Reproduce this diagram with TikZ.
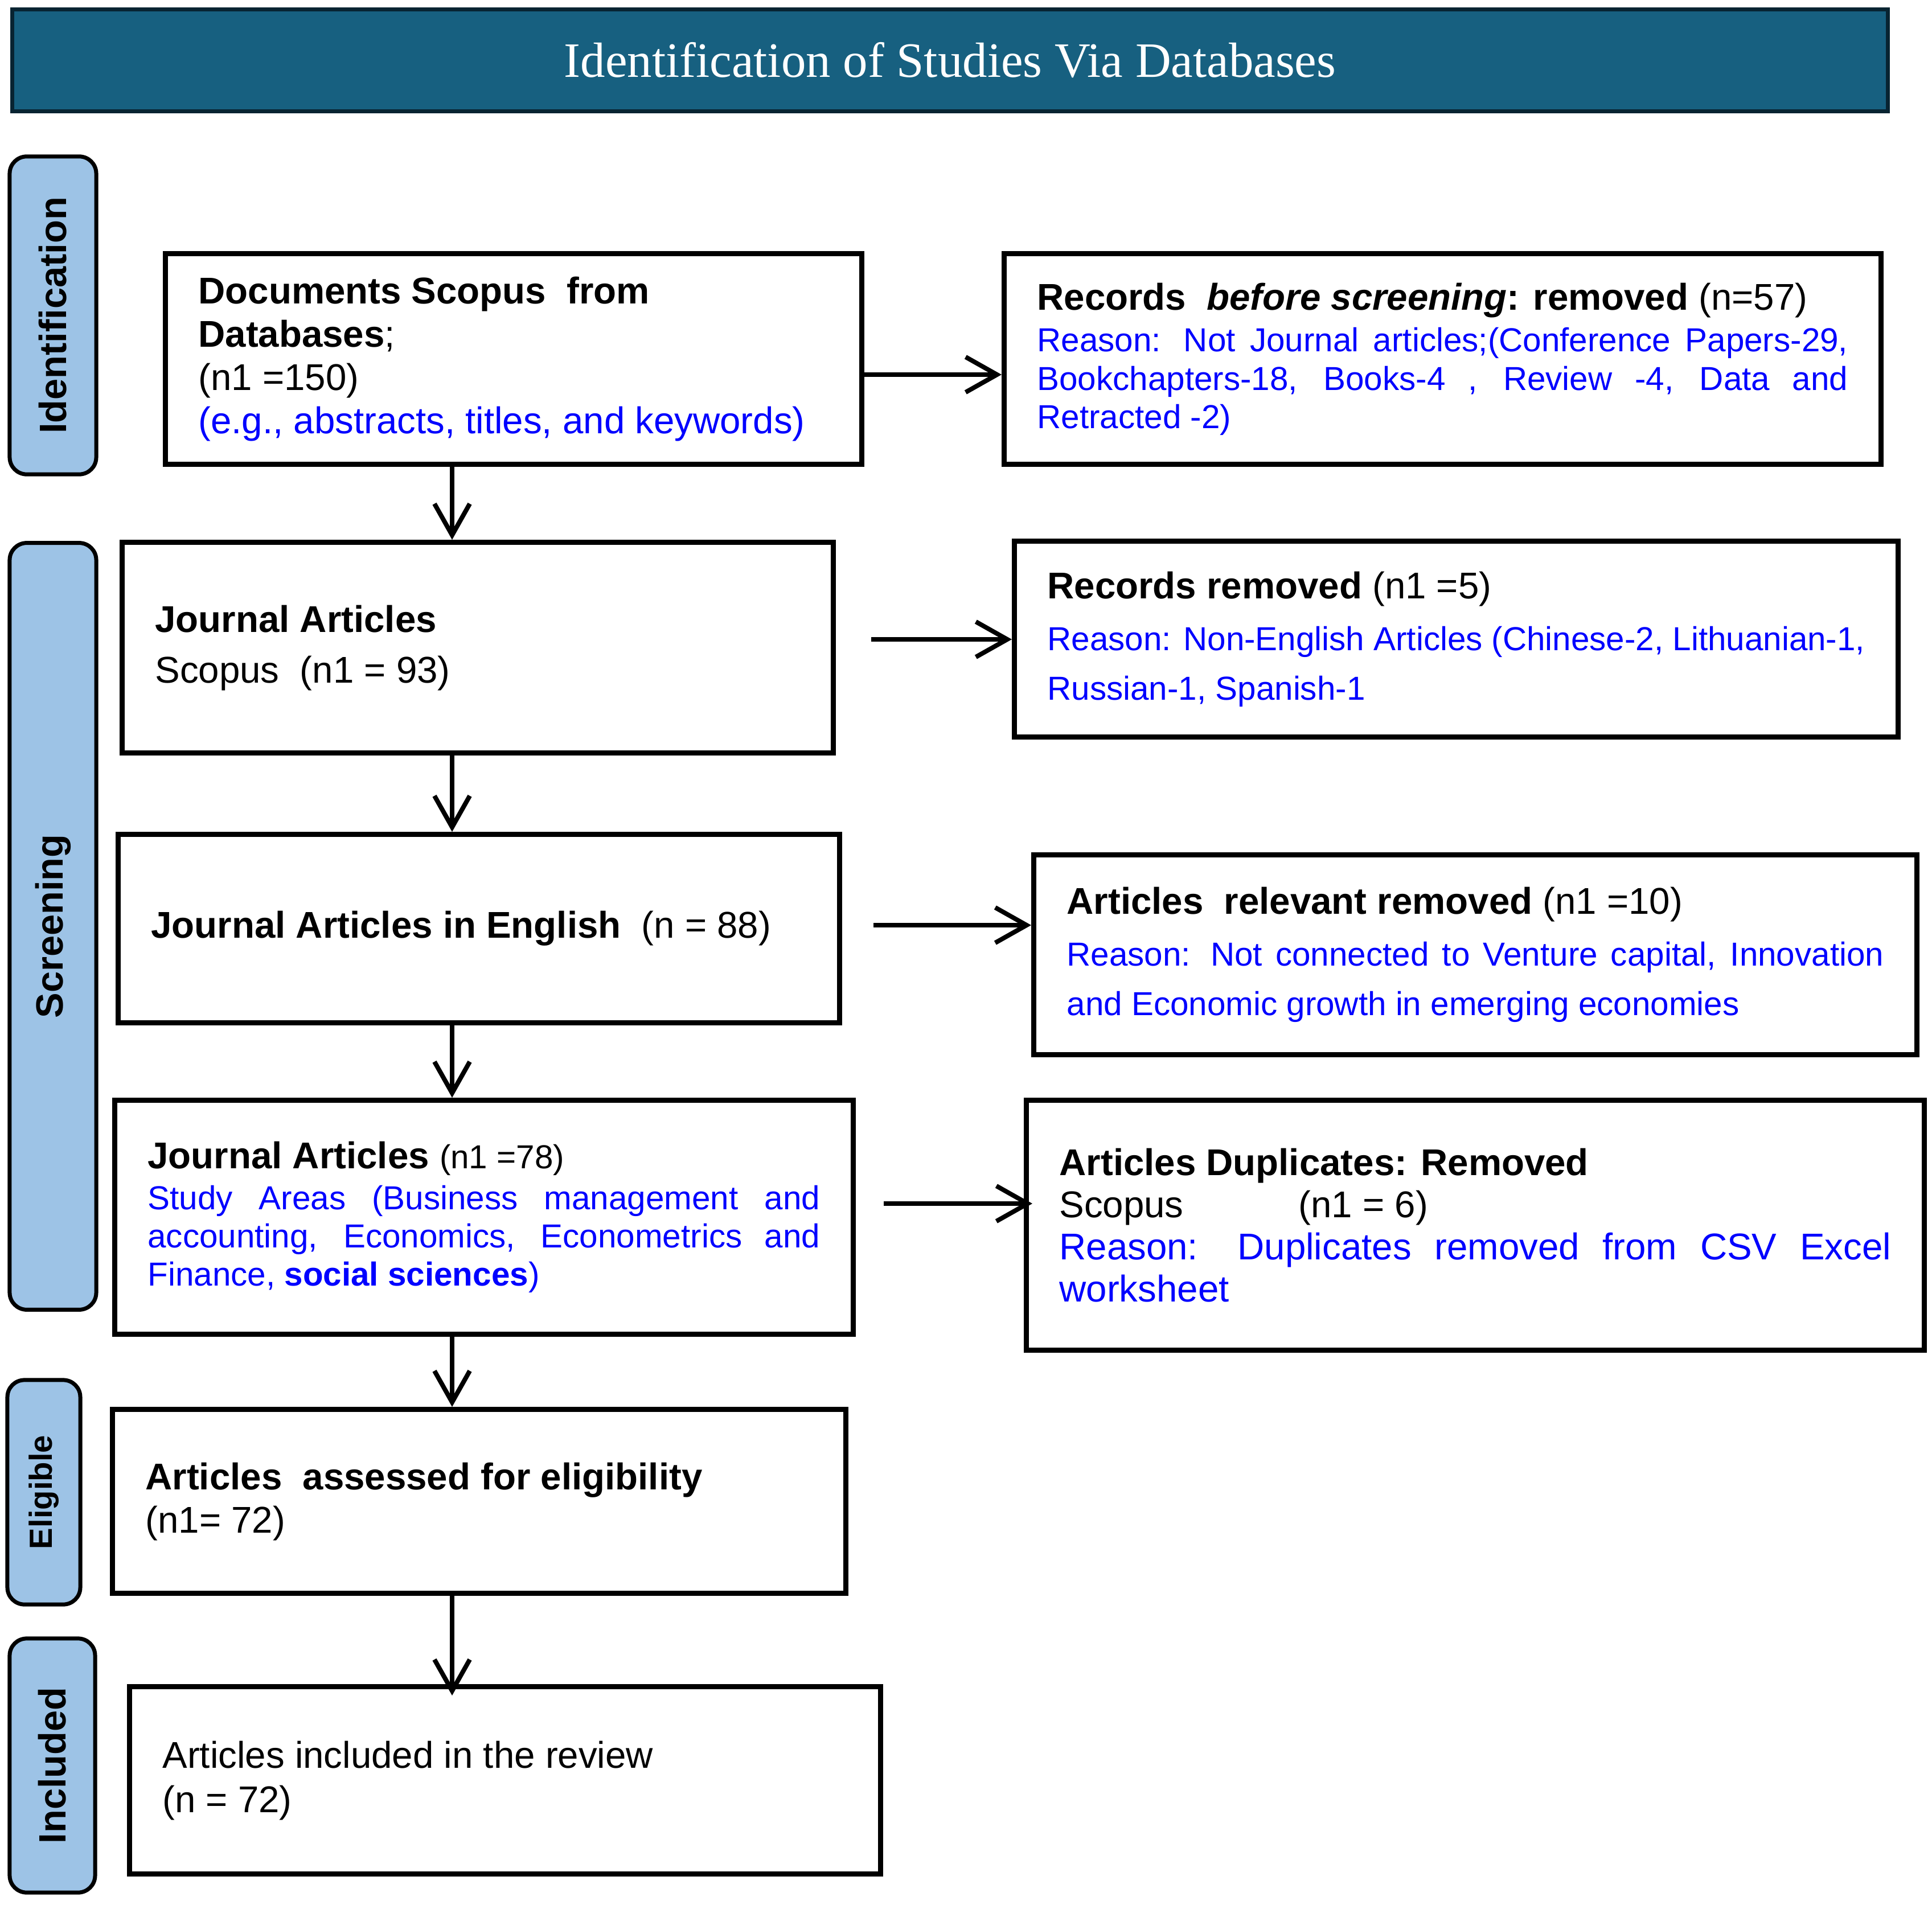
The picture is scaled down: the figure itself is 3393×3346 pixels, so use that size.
\documentclass[tikz,border=0pt]{standalone}
\usepackage{fontspec}
\setmainfont{Liberation Sans}
\newfontfamily\titleserif{Liberation Serif}
\usetikzlibrary{arrows.meta}
\setlength{\parindent}{0pt}
\definecolor{bannerfill}{RGB}{23,96,128}
\definecolor{bannerline}{RGB}{8,36,50}
\definecolor{labfill}{RGB}{157,195,230}
\definecolor{txtblue}{RGB}{0,0,255}
\newcommand{\SzA}[1]{\fontsize{18.6pt}{#1pt}\selectfont}
\newcommand{\SzB}[1]{\fontsize{16.6pt}{#1pt}\selectfont}
\begin{document}
\begin{tikzpicture}[x=0.01cm, y=-0.01cm,
  banner/.style={draw=bannerline, fill=bannerfill, line width=0.07cm, minimum width=32.93cm, minimum height=1.78cm, inner sep=0pt, text=white, font=\titleserif\fontsize{24.7pt}{28pt}\selectfont},
  sidelab/.style={draw=black, fill=labfill, rounded corners=0.3cm, line width=0.07cm, rotate=90, inner sep=0pt, font=\bfseries\fontsize{19pt}{22pt}\selectfont},
  box/.style={draw=black, line width=0.09cm, anchor=north west, inner xsep=0.58cm, inner ysep=0pt, align=justify},
  arr/.style={line width=0.08cm, -{Straight Barb[length=0.55cm,width=0.62cm]}}
]
\useasboundingbox (0,0) rectangle (3393,3346);

% title banner
\node[banner] (title) at (1668.5,106) {Identification of Studies Via Databases};

% side labels
\node[sidelab, minimum width=5.58cm, minimum height=1.52cm] (l1) at (93,554) {Identification};
\node[sidelab, minimum width=13.46cm, minimum height=1.52cm] (l2) at (93,1627) {Screening};
\node[sidelab, minimum width=3.94cm, minimum height=1.28cm, font=\bfseries\fontsize{16pt}{19pt}\selectfont] (l3) at (77,2621) {Eligible};
\node[sidelab, minimum width=4.46cm, minimum height=1.50cm] (l4) at (92,3101) {Included};

% main column
\node[box, minimum width=12.22cm, minimum height=3.70cm, text width=11.06cm] (b1) at (286,441)
  {\SzA{21.7}\textbf{Documents Scopus\ \ from}\par\textbf{Databases};\par(n1 =150)\par\textcolor{txtblue}{(e.g., abstracts, titles, and keywords)}\par};
\node[box, minimum width=12.48cm, minimum height=3.70cm, text width=11.32cm] (b2) at (210,948)
  {\SzA{25.3}\textbf{Journal Articles}\par Scopus\ \ (n1 = 93)\par};
\node[box, minimum width=12.66cm, minimum height=3.31cm, text width=11.50cm] (b3) at (203,1461)
  {\SzA{21.6}\textbf{Journal Articles in English}\ \ (n = 88)\par};
\node[box, minimum width=12.96cm, minimum height=4.11cm, text width=11.80cm] (b4) at (197,1928)
  {\SzA{20.3}\textbf{Journal Articles} {\SzB{20.3}(n1 =78)}\par\vspace{1.2pt}\SzB{19.1}\textcolor{txtblue}{Study Areas (Business management and\linebreak accounting, Economics, Econometrics and\linebreak Finance, \textbf{social sciences})}\par};
\node[box, minimum width=12.87cm, minimum height=3.23cm, text width=11.71cm] (b5) at (193,2471)
  {\SzA{21.6}\textbf{Articles\ \ assessed for eligibility}\par(n1= 72)\par};
\node[box, minimum width=13.18cm, minimum height=3.29cm, text width=12.02cm] (b6) at (223,2958)
  {\SzA{22.2}Articles included in the review\par(n = 72)\par};

% right column
\node[box, minimum width=15.39cm, minimum height=3.70cm, text width=14.23cm] (r1) at (1759,441)
  {\SzA{21}\textbf{Records\ \ \textit{before screening}: removed} (n=57)\par\vspace{1.8pt}\SzB{19.1}\textcolor{txtblue}{Reason: Not Journal articles;(Conference Papers-29,\linebreak Bookchapters-18, Books-4 , Review -4, Data and\linebreak Retracted -2)}\par};
\node[box, minimum width=15.51cm, minimum height=3.44cm, text width=14.35cm] (r2) at (1777,946)
  {\SzA{21}\textbf{Records removed} (n1 =5)\par\vspace{1.1pt}\SzB{24.8}\textcolor{txtblue}{Reason: Non-English Articles (Chinese-2, Lithuanian-1,\linebreak Russian-1, Spanish-1}\par};
\node[box, minimum width=15.50cm, minimum height=3.51cm, text width=14.34cm] (r3) at (1811,1497)
  {\SzA{21}\textbf{Articles\ \ relevant removed} (n1 =10)\par\vspace{1.1pt}\SzB{24.8}\textcolor{txtblue}{Reason: Not connected to Venture capital, Innovation\linebreak and Economic growth in emerging economies}\par};
\node[box, minimum width=15.76cm, minimum height=4.39cm, text width=14.60cm] (r4) at (1798,1928)
  {\SzA{21.1}\textbf{Articles Duplicates: Removed}\par\makebox[119.5pt][l]{Scopus}(n1 = 6)\par\textcolor{txtblue}{Reason: Duplicates removed from CSV Excel\linebreak worksheet}\par};

% vertical arrows
\coordinate (ax) at (794,0);
\draw[arr] (ax |- b1.south) -- (ax |- b2.north);
\draw[arr] (ax |- b2.south) -- (ax |- b3.north);
\draw[arr] (ax |- b3.south) -- (ax |- b4.north);
\draw[arr] (ax |- b4.south) -- (ax |- b5.north);
\draw[arr, shorten >=-0.2cm] (ax |- b5.south) -- (ax |- b6.north);

% horizontal arrows
\coordinate (s1) at (1515,658);
\coordinate (s2) at (1530,1123);
\coordinate (s3) at (1534,1625);
\coordinate (s4) at (1552,2114);
\draw[arr] (s1) -- (s1 -| r1.west);
\draw[arr] (s2) -- (s2 -| r2.west);
\draw[arr] (s3) -- (s3 -| r3.west);
\draw[arr, shorten >=-0.15cm] (s4) -- (s4 -| r4.west);
\end{tikzpicture}
\end{document}
